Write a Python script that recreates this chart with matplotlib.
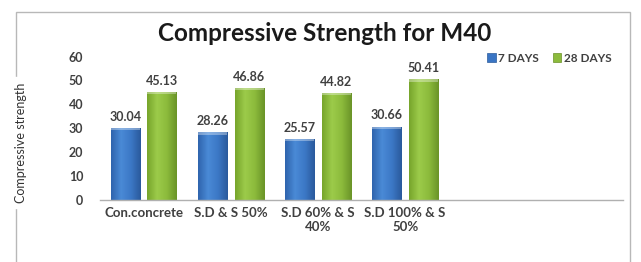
import matplotlib
matplotlib.use("Agg")
import matplotlib.pyplot as plt
import numpy as np
from matplotlib.patches import Rectangle
from matplotlib.colors import LinearSegmentedColormap

# data
categories = ["Con.concrete", "S.D & S 50%", "S.D 60% & S\n40%", "S.D 100% & S\n50%"]
days7 = [30.04, 28.26, 25.57, 30.66]
days28 = [45.13, 46.86, 44.82, 50.41]
series_names = ["7 DAYS", "28 DAYS"]

plt.rcParams['font.family'] = ['Lato', 'DejaVu Sans']
txt = '#404040'

fig = plt.figure(figsize=(6.41, 2.62), dpi=100)
ax = fig.add_axes([0.156, 0.237, 0.816, 0.547])

x = np.arange(len(categories))
w = 0.333
b1 = ax.bar(x - 0.21, days7, w, color='#3a75c4', edgecolor='#2c5c9c', linewidth=0.5, label=series_names[0])
b2 = ax.bar(x + 0.21, days28, w, color='#8cbb3c', edgecolor='#6a9128', linewidth=0.5, label=series_names[1])

# shaded bar look
grads = {
    'b': LinearSegmentedColormap.from_list('b', ['#2f64ad', '#4a8ad6', '#3c78c6', '#2a5a9c']),
    'g': LinearSegmentedColormap.from_list('g', ['#77a52c', '#9ccb4a', '#8cbb3c', '#6a9428']),
}
grad = np.linspace(0, 1, 64).reshape(1, -1)
for bars, key in ((b1, 'b'), (b2, 'g')):
    for r in bars:
        x0, h = r.get_x(), r.get_height()
        im = ax.imshow(grad, cmap=grads[key], aspect='auto', extent=(x0, x0 + w, 0, h), zorder=2.1)
        im.set_clip_path(r)
        top = h - 0.9
        ax.add_patch(Rectangle((x0, top), w, 0.9, facecolor='white', alpha=0.35,
                               linewidth=0, zorder=2.2, clip_path=r))

for bars in (b1, b2):
    for r in bars:
        ax.text(r.get_x() + r.get_width() / 2, r.get_height() + 2.2, f"{r.get_height():.2f}",
                ha='center', va='bottom', fontsize=9, fontweight='bold', color=txt)

ax.set_xlim(-0.5, 5.5)
ax.set_ylim(0, 60)
ax.set_yticks(range(0, 61, 10))
ax.set_xticks(x)
ax.set_xticklabels(categories, fontsize=9.5, fontweight='bold', color=txt, linespacing=1.25)
ax.tick_params(axis='y', labelsize=9, colors=txt, length=0, pad=12)
ax.tick_params(axis='x', length=0, pad=5)
for lbl in ax.get_yticklabels():
    lbl.set_fontweight('bold')
for s in ['top', 'right', 'left']:
    ax.spines[s].set_visible(False)
ax.spines['bottom'].set_color('#b0b0b0')
ax.spines['bottom'].set_linewidth(1.0)

fig.text(0.507, 0.872, "Compressive Strength for M40", ha='center', va='center',
         fontsize=17.5, fontweight='bold', color='#1a1a1a')

fig.legend(handles=[b1, b2], labels=series_names, loc='center', bbox_to_anchor=(0.857, 0.778),
           ncol=2, frameon=False, handlelength=0.7, handleheight=0.7,
           handletextpad=0.2, columnspacing=1.2, prop={'weight': 'bold', 'size': 8.5})
for t in fig.legends[0].get_texts():
    t.set_color(txt)

# outer chart frame
fig.patches.append(Rectangle((16 / 641, -0.05), (630 - 16) / 641, 1.0 - 12 / 262 + 0.05,
                             transform=fig.transFigure, fill=False, edgecolor='#b8b8b8',
                             linewidth=1.0, zorder=0))
fig.text(0.033, 0.455, "Compressive strength", rotation=90, ha='center', va='center',
         fontsize=9, color='#333333', backgroundcolor='white')

fig.savefig("out.png", dpi=100)
